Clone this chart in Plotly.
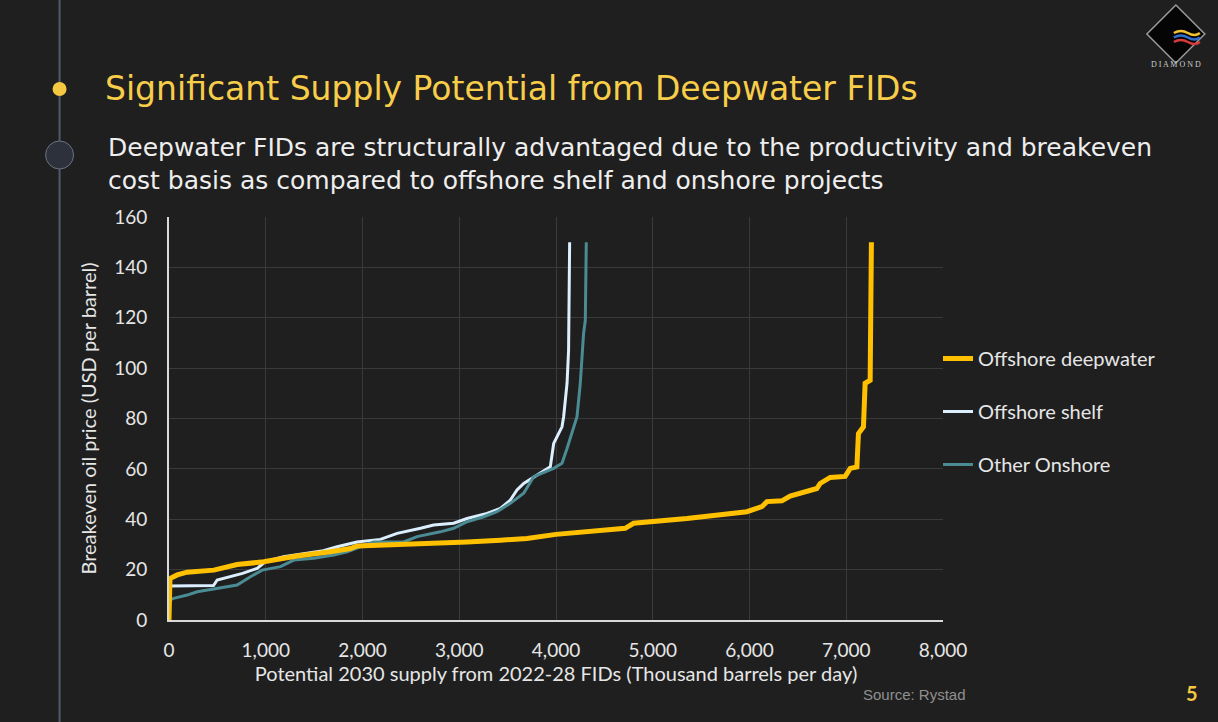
import plotly.graph_objects as go

# ---------------- data ----------------
deep_x = [0, 0, 10, 85, 188, 463, 635, 704, 979, 1324, 1668, 1875, 1944, 2529, 3081, 3425, 3700,
          4000, 4715, 4802, 5147, 5353, 5973, 6128, 6180, 6335, 6420, 6696, 6730, 6834, 6989,
          7041, 7110, 7126, 7178, 7195, 7247, 7255, 7260]
deep_y = [0, 15, 16.5, 17.9, 19.0, 19.8, 21.2, 22, 23.1, 25.4, 27.1, 28.4, 29.4, 30, 31, 31.7, 32.4,
          34.0, 36.4, 38.4, 39.3, 40.3, 43.0, 45.0, 47.0, 47.3, 49.2, 52.2, 54.2, 56.6, 57,
          60.2, 60.8, 74, 76.7, 94, 95.2, 113, 150]

shelf_x = [0, 460, 498, 704, 760, 911, 997, 1183, 1390, 1596, 1738, 1944, 2185, 2358, 2600, 2735,
           2942, 3081, 3287, 3425, 3528, 3597, 3666, 3838, 3941, 3976, 4010, 4062, 4079, 4114,
           4130, 4141]
shelf_y = [13.5, 13.7, 15.9, 17.9, 18.5, 20.5, 23.2, 25.1, 26.3, 27.5, 29.1, 31, 32, 34.4, 36.4, 37.7,
           38.4, 40.3, 42.3, 44.3, 47.6, 51.6, 54.2, 58.2, 60.8, 70.1, 72.8, 76.7, 80.7, 93.9,
           107, 150]

onshore_x = [0, 10, 47, 188, 291, 601, 704, 842, 963, 1152, 1290, 1496, 1703, 1841, 1978, 2116,
             2425, 2564, 2805, 2942, 3081, 3252, 3390, 3528, 3666, 3769, 3976, 4062, 4114, 4165,
             4217, 4251, 4285, 4303, 4313]
onshore_y = [4.6, 8.0, 8.6, 9.9, 11.2, 13.2, 13.9, 17.2, 19.8, 21.2, 23.8, 24.5, 25.8, 27.1, 29.1, 31,
             31, 33.1, 35, 36.4, 39, 41, 43, 46.3, 50.3, 56.9, 60.2, 62.2, 68.1, 74,
             80.7, 93.9, 113.8, 119, 150]

series_names = ["Offshore deepwater", "Offshore shelf", "Other Onshore"]
x_ticks = [0, 1000, 2000, 3000, 4000, 5000, 6000, 7000, 8000]
y_ticks = [0, 20, 40, 60, 80, 100, 120, 140, 160]

# ---------------- figure ----------------
W, H = 1218, 722
L, R, T, B = 168.5, 943, 217, 620
BG = "#1f1f1f"


def px(xp):
    return (xp - L) / (R - L)


def py(yp):
    return (B - yp) / (B - T)


fig = go.Figure()
fig.add_trace(go.Scatter(x=shelf_x, y=shelf_y, mode="lines", name=series_names[1],
                         line=dict(color="#dcefff", width=3), legendgroup="b", legendrank=2))
fig.add_trace(go.Scatter(x=onshore_x, y=onshore_y, mode="lines", name=series_names[2],
                         line=dict(color="#4a8b94", width=3), legendgroup="c", legendrank=3))
fig.add_trace(go.Scatter(x=deep_x, y=deep_y, mode="lines", name=series_names[0],
                         line=dict(color="#ffc000", width=5), legendgroup="a", legendrank=1))

axis_font = dict(family="Lato, 'Open Sans', sans-serif", size=19, color="#e6e6e6")
title_font = dict(family="Lato, 'Open Sans', sans-serif", size=20, color="#e6e6e6")

fig.update_layout(
    width=W, height=H,
    paper_bgcolor=BG, plot_bgcolor=BG,
    margin=dict(l=L, r=W - R, t=T, b=H - B, pad=0),
    showlegend=True,
    legend=dict(x=px(938), y=py(339), xanchor="left", yanchor="top",
                font=dict(family="Lato, sans-serif", size=20, color="#e6e6e6"),
                bgcolor="rgba(0,0,0,0)", tracegroupgap=24, traceorder="grouped"),
    xaxis=dict(range=[0, 8000], tickvals=x_ticks, ticktext=[f"{v:,}" for v in x_ticks],
               showgrid=True, gridcolor="#3a3a3a", gridwidth=1,
               showline=True, linecolor="#d9d9d9", linewidth=2,
               zeroline=False, ticks="", tickfont=axis_font, ticklabelstandoff=12,
               title=dict(text="Potential 2030 supply from 2022-28 FIDs (Thousand barrels per day)",
                          font=title_font, standoff=4)),
    yaxis=dict(range=[0, 160], tickvals=y_ticks, showgrid=True, gridcolor="#3a3a3a", gridwidth=1,
               showline=True, linecolor="#d9d9d9", linewidth=2,
               zeroline=False, ticks="", tickfont=axis_font, ticklabelstandoff=16,
               title=dict(text="Breakeven oil price (USD per barrel)", font=title_font, standoff=12)),
)

# ---------------- decorations ----------------
shapes = []
shapes.append(dict(type="line", xref="paper", yref="paper", x0=px(59), x1=px(59), y0=py(0), y1=py(722),
                   line=dict(color="#505a6b", width=2), layer="below"))
shapes.append(dict(type="circle", xref="paper", yref="paper", x0=px(52), x1=px(66), y0=py(82), y1=py(96),
                   fillcolor="#f5c842", line=dict(width=0)))
shapes.append(dict(type="circle", xref="paper", yref="paper", x0=px(45), x1=px(73), y0=py(141), y1=py(169),
                   fillcolor="#2c313c", line=dict(color="#6b7280", width=1)))
cx, cy, r = 1176, 34, 29
shapes.append(dict(type="path", xref="paper", yref="paper",
                   path=f"M {px(cx)} {py(cy - r)} L {px(cx + r)} {py(cy)} L {px(cx)} {py(cy + r)} L {px(cx - r)} {py(cy)} Z",
                   fillcolor="#050505", line=dict(color="#9a9a9a", width=1.5)))
for i, col in enumerate(["#f2c230", "#2f6fd0", "#d63a3a"]):
    yy = 33 + i * 4.5
    shapes.append(dict(type="path", xref="paper", yref="paper",
                       path=(f"M {px(1174)} {py(yy)} Q {px(1181)} {py(yy - 4)} {px(1188)} {py(yy)} "
                             f"T {px(1200)} {py(yy)}"),
                       line=dict(color=col, width=2.5)))
fig.update_layout(shapes=shapes)

P = dict(xref="paper", yref="paper", showarrow=False)
annotations = [
    dict(text="Significant Supply Potential from Deepwater FIDs", x=px(102), y=py(88),
         xanchor="left", yanchor="middle",
         font=dict(family="'DejaVu Sans', sans-serif", size=33, color="#f7cd4a"), **P),
    dict(text="Deepwater FIDs are structurally advantaged due to the productivity and breakeven<br>"
              "cost basis as compared to offshore shelf and onshore projects",
         x=px(105), y=py(164), xanchor="left", yanchor="middle", align="left",
         font=dict(family="'DejaVu Sans', sans-serif", size=25, color="#eeeeee"), **P),
    dict(text="Source: Rystad", x=px(968), y=py(694), xanchor="right", yanchor="middle",
         font=dict(family="Liberation Sans, Arial, sans-serif", size=15, color="#8f8f8f"), **P),
    dict(text="<b>5</b>", x=px(1192), y=py(693), xanchor="center", yanchor="middle",
         font=dict(family="Lato, sans-serif", size=20, color="#f5c842"), **P),
    dict(text="D I A M O N D", x=px(1176), y=py(64), xanchor="center", yanchor="middle",
         font=dict(family="Liberation Serif, serif", size=8, color="#cccccc"), **P),
]
fig.update_layout(annotations=annotations)

fig.write_html("out.html", config={"displayModeBar": False},
               post_script="document.body.style.margin='0px';")
